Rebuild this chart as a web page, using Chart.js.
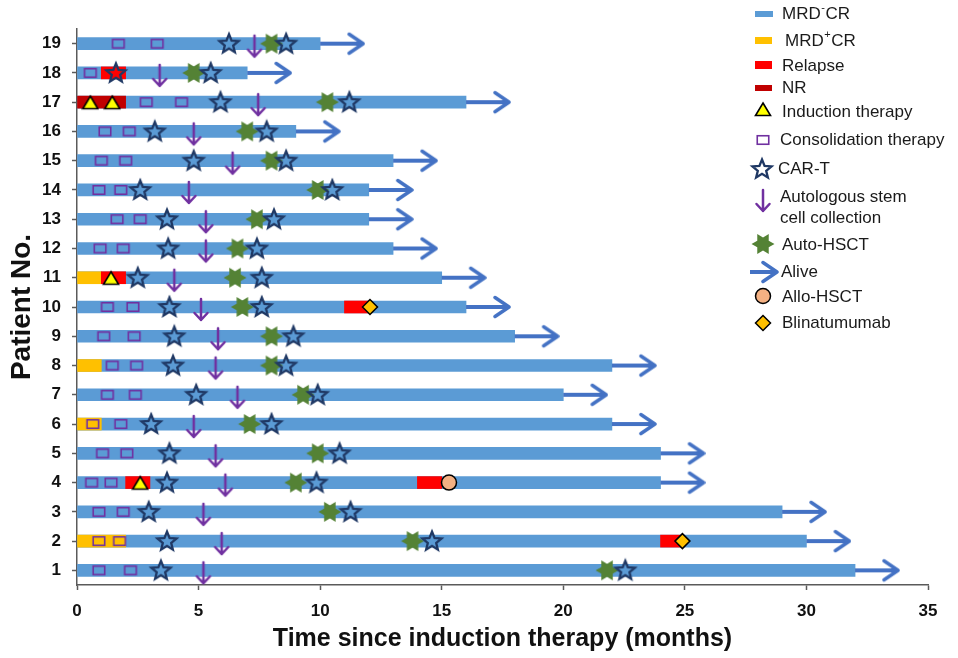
<!DOCTYPE html>
<html lang="en">
<head>
  <meta charset="UTF-8">
  <title>Swimmer plot - patients</title>
  <script src="https://cdn.jsdelivr.net/npm/chart.js"></script>
  <style>
    body { margin: 0; background: #fff; }
    canvas { display: block; }
  </style>
</head>
<body>
<canvas id="swimChart" width="958" height="658"></canvas>

<script>
  // ---- data (months since induction therapy) ----
  const patients = [1, 2, 3, 4, 5, 6, 7, 8, 9, 10, 11, 12, 13, 14, 15, 16, 17, 18, 19];
  const followUp = [32, 30, 29, 24, 24, 22, 20, 22, 18, 16, 15, 13, 12, 12, 13, 9, 16, 7, 10];
  const xTicks = [0, 5, 10, 15, 20, 25, 30, 35];

  // [patient, start, end]
  const mrdPosCR = [[2, 0, 2], [6, 0, 1], [8, 0, 1], [11, 0, 1]];
  const relapse = [[2, 24, 24.9], [4, 2, 3], [4, 14, 15], [10, 11, 12], [11, 1, 2], [18, 1, 2]];
  const noResponse = [[17, 0, 2]];

  // [patient, month]
  const induction = [[4, 2.6], [11, 1.4], [17, 0.55], [17, 1.45]];
  const consolidation = [
    [1, 0.9], [1, 2.2], [2, 0.9], [2, 1.75], [3, 0.9], [3, 1.9], [4, 0.6], [4, 1.4],
    [5, 1.05], [5, 2.05], [6, 0.65], [6, 1.8], [7, 1.25], [7, 2.4], [8, 1.45], [8, 2.45],
    [9, 1.1], [9, 2.35], [10, 1.25], [10, 2.3], [12, 0.95], [12, 1.9], [13, 1.65], [13, 2.6],
    [14, 0.9], [14, 1.8], [15, 1.0], [15, 2.0], [16, 1.15], [16, 2.15], [17, 2.85], [17, 4.3],
    [18, 0.55], [19, 1.7], [19, 3.3]
  ];
  const carT = [
    [1, 3.45], [1, 22.55], [2, 3.7], [2, 14.6], [3, 2.95], [3, 11.25], [4, 3.7], [4, 9.85],
    [5, 3.8], [5, 10.8], [6, 3.05], [6, 8.0], [7, 4.9], [7, 9.9], [8, 3.95], [8, 8.6],
    [9, 4.0], [9, 8.9], [10, 3.8], [10, 7.6], [11, 2.5], [11, 7.6], [12, 3.75], [12, 7.4],
    [13, 3.7], [13, 8.1], [14, 2.6], [14, 10.5], [15, 4.8], [15, 8.6], [16, 3.2], [16, 7.8],
    [17, 5.9], [17, 11.2], [18, 1.6], [18, 5.5], [19, 6.25], [19, 8.6]
  ];
  const stemCellCollection = [
    [1, 5.2], [2, 5.95], [3, 5.2], [4, 6.1], [5, 5.7], [6, 4.8], [7, 6.6], [8, 5.7], [9, 5.8],
    [10, 5.1], [11, 4.0], [12, 5.3], [13, 5.3], [14, 4.6], [15, 6.4], [16, 4.8], [17, 7.45],
    [18, 3.4], [19, 7.3]
  ];
  const autoHSCT = [
    [1, 21.8], [2, 13.8], [3, 10.4], [4, 9.0], [5, 9.9], [6, 7.1], [7, 9.3], [8, 8.0], [9, 8.0],
    [10, 6.8], [11, 6.5], [12, 6.6], [13, 7.4], [14, 9.9], [15, 8.0], [16, 7.0], [17, 10.3],
    [18, 4.8], [19, 8.0]
  ];
  const alloHSCT = [[4, 15.3]];
  const blinatumomab = [[2, 24.9], [10, 12.05]];

  // ---- colours ----
  const BLUE = '#5B9BD5', ARROW_BLUE = '#4472C4', YELLOW = '#FFC000', RED = '#FF0000', DARK_RED = '#C00000';
  const PURPLE = '#7030A0', NAVY = '#1F3864', GREEN = '#548235';
  const FONT = "'Liberation Sans', Arial, sans-serif";

  // ---- marker images ----
  function makeCanvas(w, h, draw) {
    const c = document.createElement('canvas');
    c.width = w; c.height = h;
    draw(c.getContext('2d'));
    return c;
  }

  const starImg = makeCanvas(26, 26, g => {
    g.beginPath();
    for (let k = 0; k < 10; k++) {
      const r = k % 2 ? 4.4 : 10;
      const a = -Math.PI / 2 + k * Math.PI / 5;
      g.lineTo(13 + r * Math.cos(a), 13.5 + r * Math.sin(a));
    }
    g.closePath();
    g.lineWidth = 2.3;
    g.strokeStyle = NAVY;
    g.stroke();
  });

  const hexImg = makeCanvas(26, 26, g => {
    g.beginPath();
    for (let k = 0; k < 12; k++) {
      const r = k % 2 ? 6.6 : 11.5;
      const a = k * Math.PI / 6;
      g.lineTo(13 + r * Math.cos(a), 13 + r * Math.sin(a));
    }
    g.closePath();
    g.fillStyle = GREEN;
    g.fill();
  });

  const downArrowImg = makeCanvas(18, 32, g => {
    g.strokeStyle = PURPLE;
    g.lineWidth = 2.5;
    g.lineCap = 'round';
    g.lineJoin = 'round';
    g.beginPath();
    g.moveTo(9, 8); g.lineTo(9, 29);
    g.moveTo(2.5, 22); g.lineTo(9, 29); g.lineTo(15.5, 22);
    g.stroke();
  });

  const squareImg = makeCanvas(16, 14, g => {
    g.strokeStyle = PURPLE;
    g.lineWidth = 1.6;
    g.strokeRect(2.25, 2.75, 11.5, 8.5);
  });

  const triangleImg = makeCanvas(18, 20, g => {
    g.beginPath();
    g.moveTo(9, 4); g.lineTo(16.5, 16.5); g.lineTo(1.5, 16.5);
    g.closePath();
    g.fillStyle = '#FFFF00';
    g.fill();
    g.lineWidth = 1.6;
    g.strokeStyle = '#000';
    g.stroke();
  });

  function makeArrow(len) {
    const cx = len + 2;
    return makeCanvas(2 * cx, 26, g => {
      g.strokeStyle = ARROW_BLUE;
      g.lineWidth = 4;
      g.beginPath();
      g.moveTo(cx, 13); g.lineTo(cx + len - 2, 13);
      g.stroke();
      g.lineWidth = 3.5;
      g.lineCap = 'round';
      g.lineJoin = 'round';
      g.beginPath();
      g.moveTo(cx + len - 14, 3.5); g.lineTo(cx + len, 13); g.lineTo(cx + len - 14, 22.5);
      g.stroke();
    });
  }
  const aliveImg = makeArrow(43);
  const aliveLegendImg = makeArrow(27);

  // ---- helpers ----
  const segs = list => list.map(([p, s, e]) => ({ y: p, x: [s, e] }));
  const pts = list => list.map(([p, m]) => ({ x: m, y: p }));

  const barBase = { type: 'bar', indexAxis: 'y', barThickness: 12, grouped: false, borderWidth: 0 };
  const marker = (label, data, style, order, extra) => Object.assign({
    type: 'scatter', label, data: pts(data), pointStyle: style, pointRadius: 8, order
  }, extra || {});

  // ---- legend drawn on the canvas ----
  const legendPlugin = {
    id: 'swimLegend',
    afterDraw(chart) {
      const g = chart.ctx;
      g.save();
      g.textBaseline = 'middle';
      g.fillStyle = '#1a1a1a';
      const txt = (t, x, y) => { g.font = '17px ' + FONT; g.fillText(t, x, y); };
      const sup = (base, s, x, y) => {
        g.font = '17px ' + FONT;
        g.fillText(base, x, y);
        let w = g.measureText(base).width;
        g.font = '11px ' + FONT;
        g.fillText(s, x + w + 0.5, y - 6);
        w += g.measureText(s).width + 1;
        g.font = '17px ' + FONT;
        g.fillText('CR', x + w, y);
      };
      const img = (im, x, y) => g.drawImage(im, x - im.width / 2, y - im.height / 2);

      g.fillStyle = BLUE; g.fillRect(755, 11, 18, 6);
      g.fillStyle = YELLOW; g.fillRect(755, 37, 17, 7);
      g.fillStyle = RED; g.fillRect(755, 61, 17, 8);
      g.fillStyle = DARK_RED; g.fillRect(755, 85, 17, 6);
      g.fillStyle = '#1a1a1a';
      sup('MRD', '-', 782, 14);
      sup('MRD', '+', 785, 41);
      txt('Relapse', 782, 66);
      txt('NR', 782, 88);

      img(triangleImg, 763, 109);
      txt('Induction therapy', 782, 112);
      img(squareImg, 763, 140);
      txt('Consolidation therapy', 780, 140);
      img(starImg, 762, 169);
      txt('CAR-T', 778, 169);
      img(downArrowImg, 763, 198);
      txt('Autologous stem', 780, 197);
      txt('cell collection', 780, 218);
      img(hexImg, 763, 244);
      txt('Auto-HSCT', 782, 245);
      g.drawImage(aliveLegendImg, 750 - aliveLegendImg.width / 2, 272 - aliveLegendImg.height / 2);
      txt('Alive', 781, 272);

      g.beginPath();
      g.arc(763, 296, 7.5, 0, Math.PI * 2);
      g.fillStyle = '#F4B183'; g.fill();
      g.lineWidth = 1.5; g.strokeStyle = '#000'; g.stroke();
      g.beginPath();
      g.moveTo(763, 315.5); g.lineTo(770.5, 323); g.lineTo(763, 330.5); g.lineTo(755.5, 323);
      g.closePath();
      g.fillStyle = YELLOW; g.fill(); g.stroke();
      g.fillStyle = '#1a1a1a';
      txt('Allo-HSCT', 782, 297);
      txt('Blinatumumab', 782, 323);
      g.restore();
    }
  };

  const axisColor = '#5a5a5a';

  new Chart(document.getElementById('swimChart').getContext('2d'), {
    type: 'bar',
    data: {
      datasets: [
        Object.assign({}, barBase, {
          label: 'MRD-CR', order: 30, backgroundColor: BLUE,
          data: patients.map((p, i) => ({ y: p, x: [0, followUp[i]] }))
        }),
        Object.assign({}, barBase, { label: 'MRD+CR', order: 29, backgroundColor: YELLOW, data: segs(mrdPosCR) }),
        Object.assign({}, barBase, { label: 'Relapse', order: 28, backgroundColor: RED, data: segs(relapse) }),
        Object.assign({}, barBase, { label: 'NR', order: 27, backgroundColor: DARK_RED, data: segs(noResponse) }),
        {
          type: 'scatter', label: 'Alive', order: 20, pointStyle: aliveImg, pointRadius: 8,
          data: patients.map((p, i) => ({ x: followUp[i], y: p }))
        },
        marker('Consolidation therapy', consolidation, squareImg, 12),
        marker('Induction therapy', induction, triangleImg, 11),
        marker('Autologous stem cell collection', stemCellCollection, downArrowImg, 10),
        marker('Auto-HSCT', autoHSCT, hexImg, 9),
        marker('CAR-T', carT, starImg, 8),
        marker('Allo-HSCT', alloHSCT, 'circle', 7,
          { pointRadius: 7.5, backgroundColor: '#F4B183', borderColor: '#000', borderWidth: 1.5 }),
        marker('Blinatumumab', blinatumomab, 'rectRot', 6,
          { pointRadius: 7.5, backgroundColor: YELLOW, borderColor: '#000', borderWidth: 1.5 })
      ]
    },
    options: {
      responsive: false,
      animation: false,
      layout: { padding: { top: 29, right: 30, bottom: 0, left: 0 } },
      plugins: { legend: { display: false }, tooltip: { enabled: false } },
      scales: {
        x: {
          type: 'linear', min: 0, max: 35, offset: false,
          afterBuildTicks(s) { s.ticks = xTicks.map(v => ({ value: v })); },
          afterFit(s) { s.height = 73; },
          ticks: { font: { family: FONT, size: 17, weight: 'bold' }, color: '#111', padding: 11 },
          grid: { offset: false, drawOnChartArea: false, tickLength: 5, tickColor: axisColor, tickWidth: 1.5 },
          border: { color: axisColor, width: 1.5 },
          title: {
            display: true, text: 'Time since induction therapy (months)', color: '#111',
            font: { family: FONT, size: 25, weight: 'bold' }, padding: { top: 0, bottom: 4 }
          }
        },
        y: {
          type: 'linear', min: 0.5, max: 19.5, offset: false,
          afterBuildTicks(s) { s.ticks = patients.map(v => ({ value: v })); },
          afterFit(s) { s.width = 77; },
          ticks: { font: { family: FONT, size: 17, weight: 'bold' }, color: '#111', padding: 11 },
          grid: { offset: false, drawOnChartArea: false, tickLength: 5, tickColor: axisColor, tickWidth: 1.5 },
          border: { color: axisColor, width: 1.5 },
          title: {
            display: true, text: 'Patient No.', color: '#111',
            font: { family: FONT, size: 28, weight: 'bold' }, padding: { top: 5, bottom: 0 }
          }
        }
      }
    },
    plugins: [legendPlugin]
  });
</script>
</body>
</html>
